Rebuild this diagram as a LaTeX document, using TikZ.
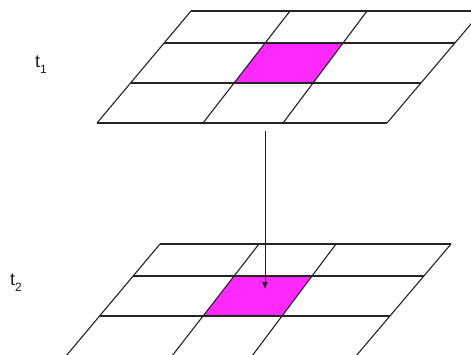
\documentclass[tikz,border=0pt]{standalone}
\usepackage{fontspec}
\setmainfont{Liberation Sans}
\usetikzlibrary{arrows.meta}
\definecolor{gridline}{RGB}{35,35,35}
\definecolor{cellmag}{RGB}{255,40,255}
\newcommand{\tlab}[1]{t\raisebox{-0.32em}{\fontsize{12}{12}\selectfont #1}}
\begin{document}
\begin{tikzpicture}[x=1pt,y=-1pt,
  gridl/.style={draw=gridline,line width=1.1pt},
  cell/.style={fill=cellmag},
  lab/.style={font=\fontsize{18}{21}\selectfont, inner sep=0pt, text=black!90},
  conn/.style={draw=gridline,line width=1pt,-{Latex[length=7pt,width=6pt]}}]
\useasboundingbox (0,0) rectangle (471,354);
\clip (0,0) rectangle (471,354);
\foreach \dx/\dy in {0/0, -31/233} {
  \begin{scope}[shift={(\dx,\dy)}]
    \fill[cell] (265,43) -- (343,43) -- (313,83) -- (234,83) -- cycle;
    \draw[gridl] (191,11) -- (482,11);
    \draw[gridl] (164,43) -- (455,43);
    \draw[gridl] (130.5,83) -- (421,83);
    \draw[gridl] (97,123) -- (387,123);
    \draw[gridl] (97,123) -- (191,11);
    \draw[gridl] (203,123) -- (290,11);
    \draw[gridl] (283,123) -- (367,11);
    \draw[gridl] (387,123) -- (482,11);
  \end{scope}
}
\node[lab] (t1) at (41,65) {\tlab{1}};
\node[lab] (t2) at (16,283) {\tlab{2}};
\coordinate (src) at (265,131);
\coordinate (dst) at (265,289);
\draw[conn] (src) -- (dst);
\end{tikzpicture}
\end{document}
